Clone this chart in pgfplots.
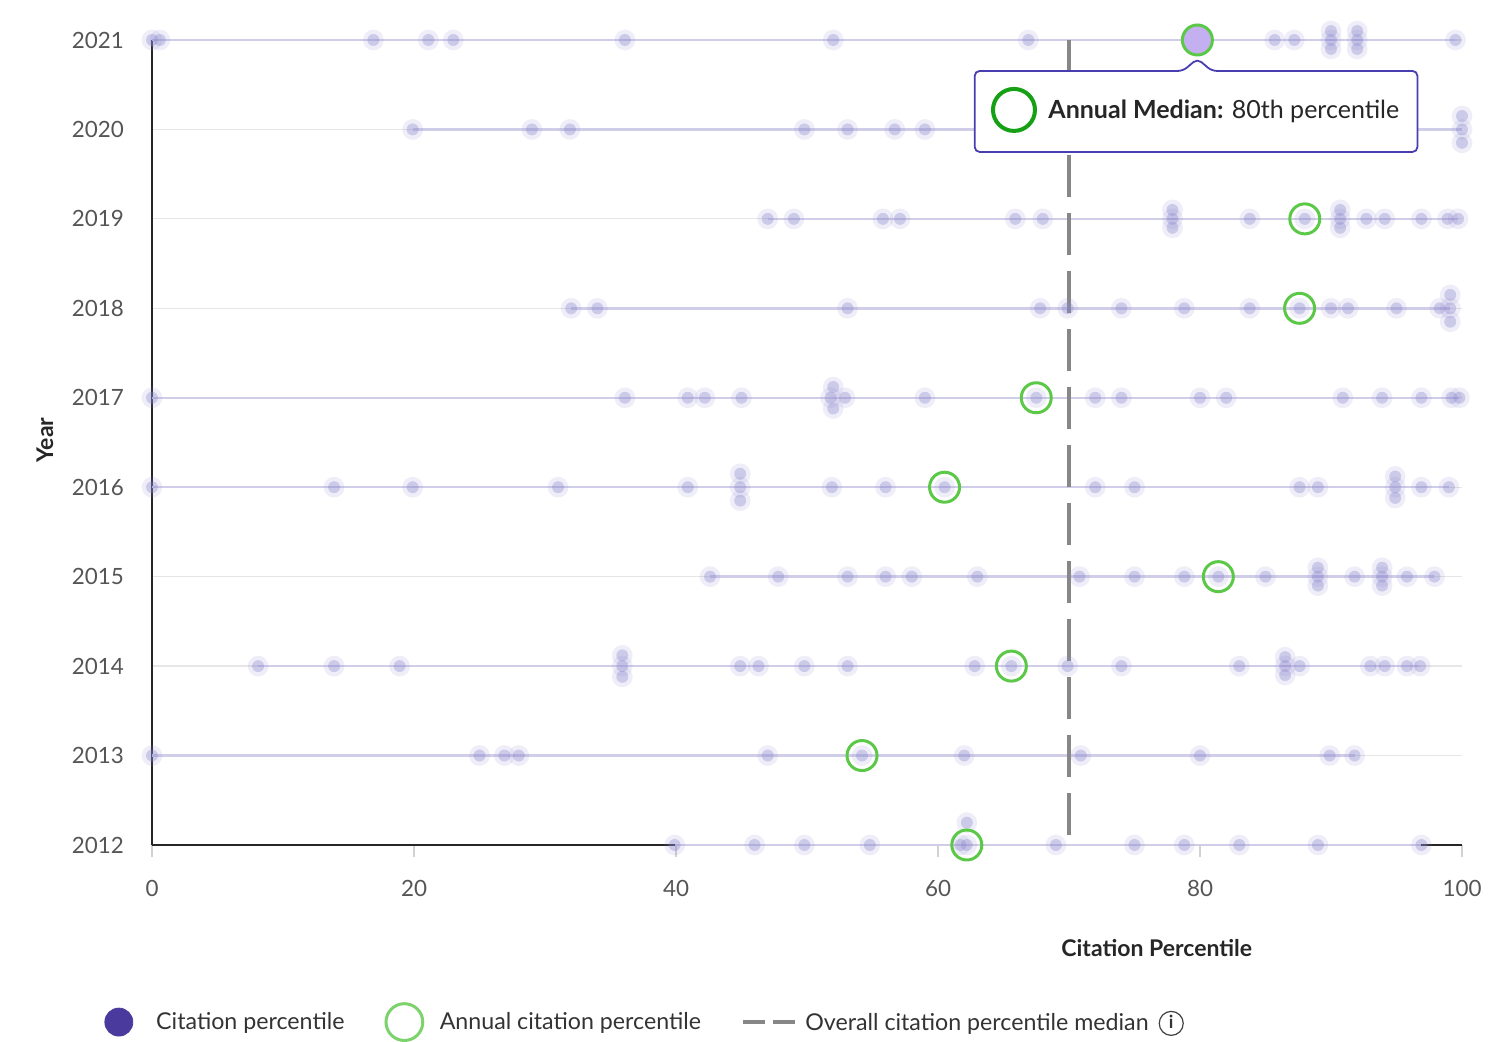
\documentclass[border=0pt]{standalone}
\usepackage{pgfplots}
\pgfplotsset{compat=1.18}
\usepackage{pgfplotstable}
\usepackage{fontspec}
\setmainfont{Lato}
\definecolor{dotc}{RGB}{140,135,205}
\definecolor{rangec}{RGB}{208,205,232}
\definecolor{gridc}{RGB}{230,230,230}
\definecolor{medc}{RGB}{92,200,72}
\definecolor{medfill}{RGB}{196,176,240}
\definecolor{dashc}{RGB}{135,135,135}
\definecolor{tipc}{RGB}{72,62,176}
\definecolor{tipgreen}{RGB}{22,160,22}
\definecolor{legpurple}{RGB}{75,58,158}
\definecolor{leggreen}{RGB}{125,211,107}
\definecolor{labc}{RGB}{85,85,85}

\pgfplotstableread{
x y
0 2021
0.6 2021
16.9 2021
21.1 2021
23 2021
36.1 2021
52 2021
66.9 2021
79.8 2021
85.7 2021
87.2 2021
90 2021
90 2021.1
90 2020.9
92 2021
92 2021.1
92 2020.9
99.5 2021
19.9 2020
29 2020
31.9 2020
49.8 2020
53.1 2020
56.7 2020
59 2020
100 2020
100 2020.15
100 2019.85
47 2019
49 2019
55.8 2019
57.1 2019
65.9 2019
68 2019
77.9 2019
77.9 2019.1
77.9 2018.9
83.8 2019
88 2019
90.7 2019
90.7 2019.1
90.7 2018.9
92.7 2019
94.1 2019
96.9 2019
98.9 2019
99.7 2019
32 2018
34 2018
53.1 2018
67.8 2018
69.9 2018
74 2018
78.8 2018
83.8 2018
87.6 2018
90 2018
91.3 2018
95 2018
98.3 2018
99.1 2018
99.1 2018.15
99.1 2017.85
0 2017
36.1 2017
40.9 2017
42.2 2017
45 2017
51.8 2017
52.9 2017
52 2017.12
52 2016.88
59 2017
67.5 2017
72 2017
74 2017
80 2017
82 2017
90.9 2017
93.9 2017
96.9 2017
99.2 2017
99.8 2017
0 2016
13.9 2016
19.9 2016
31 2016
40.9 2016
44.9 2016
44.9 2016.15
44.9 2015.85
51.9 2016
56 2016
60.5 2016
72 2016
75 2016
87.6 2016
89 2016
94.9 2016
94.9 2016.12
94.9 2015.88
96.9 2016
99 2016
42.6 2015
47.8 2015
53.1 2015
56 2015
58 2015
63 2015
70.8 2015
75 2015
78.8 2015
81.4 2015
85 2015
89 2015
89 2015.1
89 2014.9
91.8 2015
93.9 2015
93.9 2015.1
93.9 2014.9
95.8 2015
97.9 2015
8.1 2014
13.9 2014
18.9 2014
35.9 2014
35.9 2014.12
35.9 2013.88
44.9 2014
46.3 2014
49.8 2014
53.1 2014
62.8 2014
65.6 2014
69.9 2014
74 2014
83 2014
86.5 2014
86.5 2014.1
86.5 2013.9
87.6 2014
93 2014
94.1 2014
95.8 2014
96.8 2014
0 2013
25 2013
26.9 2013
28 2013
47 2013
54.2 2013
62 2013
70.9 2013
80 2013
89.9 2013
91.8 2013
39.9 2012
46 2012
49.8 2012
54.8 2012
61.7 2012
62.2 2012
62.2 2012.25
69 2012
75 2012
78.8 2012
83 2012
89 2012
96.9 2012
}\dotdata

\pgfplotstableread{
x y
88.0 2019
87.6 2018
67.5 2017
60.5 2016
81.4 2015
65.6 2014
54.2 2013
62.2 2012
}\meddata

\begin{document}
\begin{tikzpicture}
\path[use as bounding box] (0,0) rectangle (745pt,521pt);
\begin{axis}[
  at={(76pt,98.5pt)}, anchor=south west,
  scale only axis, width=655pt, height=402.5pt,
  xmin=0, xmax=100, ymin=2012, ymax=2021,
  clip=false,
  axis lines*=left,
  axis line style={draw=black!85, line width=1pt},
  xtick={0,20,...,100},
  ytick={2012,2013,...,2021},
  tick align=outside,
  major tick length=6pt,
  xtick style={draw=gray!35, line width=0.6pt},
  ytick style={draw=none},
  /pgf/number format/assume math mode=true,
  /pgf/number format/1000 sep={},
  tick label style={font=\fontsize{11.2}{13}\selectfont, text=labc},
  xticklabel style={yshift=-8pt},
  yticklabel style={xshift=-4.5pt},
  ymajorgrids, grid style={draw=gridc, line width=0.6pt},
  legend columns=3,
  legend cell align=left,
  legend style={draw=none, fill=none, at={(-0.0366,-0.22)}, anchor=west, inner sep=0pt,
    font=\fontsize{11.6}{14}\selectfont, text=black!80,
    /tikz/every even column/.append style={column sep=18pt},
    /tikz/every odd column/.append style={column sep=0pt}},
]
% range lines
\addplot[rangec, line width=1.2pt, forget plot] coordinates {(0,2021) (99.5,2021)};
\addplot[rangec, line width=1.2pt, forget plot] coordinates {(19.9,2020) (100,2020)};
\addplot[rangec, line width=1.2pt, forget plot] coordinates {(47,2019) (99.7,2019)};
\addplot[rangec, line width=1.2pt, forget plot] coordinates {(32,2018) (99.1,2018)};
\addplot[rangec, line width=1.2pt, forget plot] coordinates {(0,2017) (99.8,2017)};
\addplot[rangec, line width=1.2pt, forget plot] coordinates {(0,2016) (99,2016)};
\addplot[rangec, line width=1.2pt, forget plot] coordinates {(42.6,2015) (97.9,2015)};
\addplot[rangec, line width=1.2pt, forget plot] coordinates {(8.1,2014) (96.8,2014)};
\addplot[rangec, line width=1.2pt, forget plot] coordinates {(0,2013) (91.8,2013)};
\addplot[rangec, line width=1.2pt, forget plot] coordinates {(39.9,2012) (96.9,2012)};
% dots (soft halo + core)
\addplot[dotc, only marks, mark=*, mark size=5.2pt, mark options={draw opacity=0, fill=dotc, fill opacity=0.14}, forget plot] table {\dotdata};
\addplot[dotc, only marks, mark=*, mark size=3pt, mark options={draw opacity=0, fill=dotc, fill opacity=0.35}, forget plot] table {\dotdata};
% overall median
\addplot[dashc, line width=2pt, dash pattern=on 21pt off 8pt, forget plot] coordinates {(70,2012.11) (70,2021)};
% annual medians
\addplot[medc, only marks, mark=o, mark size=7.5pt, mark options={draw=medc, line width=1.5pt}, forget plot] table {\meddata};
\addplot[medc, only marks, mark=*, mark size=7.5pt, mark options={draw=medc, fill=medfill, line width=1.5pt}, forget plot] coordinates {(79.8,2021)};

\addlegendimage{legend image code/.code={\path (16.5pt,0pt); \fill[legpurple] (0pt,0pt) circle (7pt);}}
\addlegendentry{Citation percentile}
\addlegendimage{legend image code/.code={\path (15.5pt,0pt); \draw[leggreen, line width=1.5pt] (0pt,0pt) circle (9.2pt);}}
\addlegendentry{Annual citation percentile}
\addlegendimage{legend image code/.code={\path (29pt,0pt); \draw[dashc, line width=2pt, dash pattern=on 11pt off 4pt] (0pt,0pt) -- (26pt,0pt);}}
\addlegendentry{Overall citation percentile median\hspace{5pt}\tikz[baseline=-3.5pt]\node[circle,draw=black!75,line width=0.6pt,inner sep=0pt,minimum size=12pt,font=\fontsize{9}{9}\selectfont\bfseries]{i};}

% tooltip
\draw[fill=white, draw=tipc, line width=0.9pt, rounded corners=2.5pt]
 (axis cs:62.8,2019.748) -- (axis cs:96.6,2019.748) -- (axis cs:96.6,2020.654) -- (axis cs:80.9,2020.654) -- (axis cs:79.8,2020.79) -- (axis cs:78.7,2020.654) -- (axis cs:62.8,2020.654) -- cycle;
\node[circle, draw=tipgreen, line width=2pt, minimum size=21pt, inner sep=0pt] at (axis cs:65.8,2020.218) {};
\node[anchor=west, font=\fontsize{12.5}{14}\selectfont, text=black!85, inner sep=0pt] at (axis cs:68.4,2020.2) {\textbf{Annual Median:} 80th percentile};

\node[rotate=90, font=\bfseries\fontsize{11.5}{14}\selectfont, text=black!85] at (axis description cs:-0.0817,0.503) {Year};
\node[font=\bfseries\fontsize{11.5}{14}\selectfont, text=black!85] at (axis description cs:0.767,-0.128) {Citation Percentile};
\end{axis}
\end{tikzpicture}
\end{document}
